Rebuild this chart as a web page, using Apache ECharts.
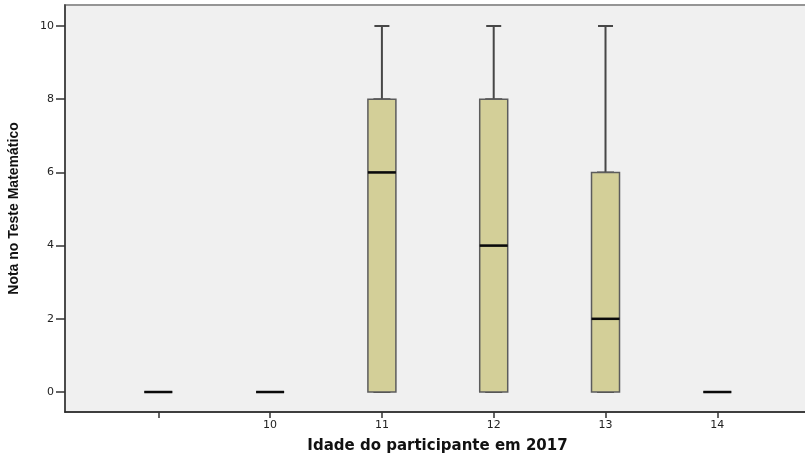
<!DOCTYPE html>
<html>
<head>
<meta charset="utf-8">
<title>Nota no Teste Matemático por idade</title>
<script src="https://cdn.jsdelivr.net/npm/echarts@6/dist/echarts.min.js"></script>
<style>
  html, body { margin: 0; padding: 0; background: #ffffff; }
  #chart { width: 805px; height: 456px; }
</style>
</head>
<body>
<div id="chart"></div>
<script>
// Age groups (axis positions and their printed labels)
const agePositions = [9, 10, 11, 12, 13, 14];
const ageLabels = ['', '10', '11', '12', '13', '14'];

// Five-number summaries of the math test score per age group
const minScores = [0, 0, 0, 0, 0, 0];
const q1Scores = [0, 0, 0, 0, 0, 0];
const medianScores = [0, 0, 6, 4, 2, 0];
const q3Scores = [0, 0, 8, 8, 6, 0];
const maxScores = [0, 0, 10, 10, 10, 0];

// Y axis tick values
const scoreTicks = [0, 2, 4, 6, 8, 10];

const labelOf = {};
agePositions.forEach((p, i) => { labelOf[p] = ageLabels[i]; });

const whiskerData = agePositions.map((p, i) =>
  [p, minScores[i], q1Scores[i], medianScores[i], q3Scores[i], maxScores[i]]);
const boxData = agePositions.map((p, i) =>
  [p, q1Scores[i], q1Scores[i], medianScores[i], q3Scores[i], q3Scores[i]]);
const medianData = agePositions.map((p, i) => [p, medianScores[i]]);

// plot runs a little past the right edge of the page, so no right border shows
const xRange = { min: 8.1655, max: 14.829 };
const tickFont = { fontFamily: 'DejaVu Sans, Liberation Sans, sans-serif', fontSize: 11, color: '#222' };

const chart = echarts.init(document.getElementById('chart'), null, { renderer: 'canvas' });

chart.setOption({
  animation: false,
  backgroundColor: '#ffffff',
  grid: {
    left: 65, top: 5, width: 745, bottom: 44,
    outerBoundsMode: 'none',
    containLabel: false,
    show: true,
    backgroundColor: '#f0f0f0',
    borderColor: '#959595',
    borderWidth: 2
  },
  xAxis: [
    {
      type: 'value',
      min: xRange.min,
      max: xRange.max,
      splitLine: { show: false },
      axisLine: { show: true, onZero: false, lineStyle: { color: '#222', width: 1.5 } },
      axisTick: {
        show: true, length: 6, customValues: agePositions,
        lineStyle: { color: '#333', width: 1.5 }
      },
      axisLabel: {
        customValues: agePositions,
        formatter: v => labelOf[v] ?? '',
        margin: 8,
        ...tickFont
      },
      name: 'Idade do participante em 2017',
      nameLocation: 'middle',
      nameGap: 27,
      nameTextStyle: {
        fontFamily: 'DejaVu Sans, Liberation Sans, sans-serif',
        fontWeight: 'bold',
        fontSize: 15,
        color: '#111'
      }
    },
    {
      type: 'value',
      min: xRange.min,
      max: xRange.max,
      show: false,
      gridIndex: 0
    }
  ],
  yAxis: {
    type: 'value',
    min: -0.546,
    max: 10.574,
    splitLine: { show: false },
    axisLine: { show: true, onZero: false, lineStyle: { color: '#333', width: 1.5 } },
    axisTick: {
      show: true, length: 9, customValues: scoreTicks,
      lineStyle: { color: '#333', width: 1.5 }
    },
    axisLabel: {
      customValues: scoreTicks,
      margin: 11,
      ...tickFont
    },
    name: 'Nota no Teste Matemático',
    nameLocation: 'middle',
    nameRotate: 90,
    nameGap: 44,
    nameTextStyle: {
      fontFamily: 'Liberation Sans Narrow, Arial Narrow, Liberation Sans, sans-serif',
      fontWeight: 'bold',
      fontSize: 14,
      color: '#111'
    }
  },
  series: [
    {
      // whiskers with short caps
      name: 'whiskers',
      type: 'boxplot',
      xAxisIndex: 1,
      z: 2,
      boxWidth: [15, 15],
      data: whiskerData,
      itemStyle: { color: 'rgba(0,0,0,0)', borderColor: '#474747', borderWidth: 2 },
      emphasis: { disabled: true },
      silent: true
    },
    {
      // interquartile boxes
      name: 'boxes',
      type: 'boxplot',
      xAxisIndex: 0,
      z: 3,
      boxWidth: [28, 28],
      data: boxData,
      itemStyle: { color: '#d3cf98', borderColor: '#5c5c5c', borderWidth: 1.5 },
      emphasis: { disabled: true },
      silent: true
    },
    {
      // median marks
      name: 'medians',
      type: 'scatter',
      xAxisIndex: 0,
      z: 4,
      symbol: 'rect',
      symbolSize: [28, 2.5],
      data: medianData,
      itemStyle: { color: '#0a0a0a', opacity: 1 },
      emphasis: { disabled: true },
      silent: true
    }
  ]
});
</script>
</body>
</html>
